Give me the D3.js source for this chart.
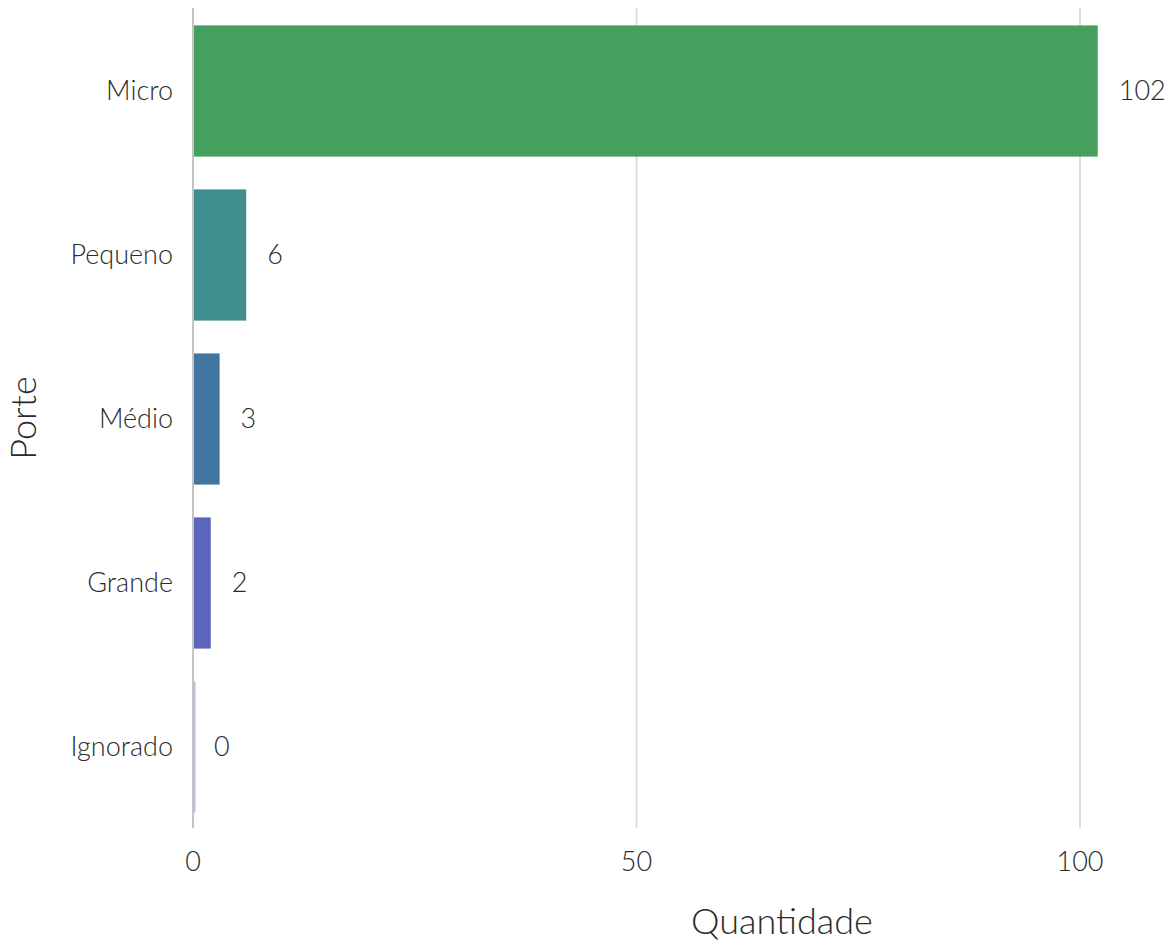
<!DOCTYPE html>
<html><head><meta charset="utf-8">
<script src="https://cdn.jsdelivr.net/npm/d3@7"></script>
<style>
body{margin:0;background:#fff;}
text{font-family:Lato,sans-serif;font-weight:300;fill:#2b2b2b;}
</style></head>
<body><svg id="c" width="1171" height="944"></svg>
<script>
const categories = ["Micro","Pequeno","Médio","Grande","Ignorado"];
const values = [102, 6, 3, 2, 0];
const colors = ["#45a060","#3f8d8c","#4275a0","#5b65bb","#c9b8dc"];
const tickValues = [0, 50, 100];
const xTitle = "Quantidade";
const yTitle = "Porte";

const svg = d3.select("#c");
const x = d3.scaleLinear().domain([0, 100]).range([193, 1080]);
const y = d3.scaleBand().domain(categories).range([9, 829]).paddingInner(0.2).paddingOuter(0.1);

// grid
svg.append("g").selectAll("line").data(tickValues).join("line")
  .attr("x1", d => x(d)).attr("x2", d => x(d))
  .attr("y1", 8).attr("y2", 828)
  .attr("stroke", d => d === 0 ? "#c4c4c4" : "#dedede")
  .attr("stroke-width", 2);

// bars
svg.append("g").selectAll("rect").data(categories).join("rect")
  .attr("x", x(0) + 1)
  .attr("y", d => y(d))
  .attr("height", y.bandwidth())
  .attr("width", (d, i) => Math.max(1.5, x(values[i]) - x(0) - 1))
  .attr("fill", (d, i) => colors[i]);

// value labels
svg.append("g").selectAll("text").data(categories).join("text")
  .attr("x", (d, i) => x(values[i]) + 21)
  .attr("y", d => y(d) + y.bandwidth() / 2)
  .attr("dy", "0.35em")
  .attr("font-size", 27)
  .text((d, i) => values[i]);

// category labels
svg.append("g").selectAll("text").data(categories).join("text")
  .attr("x", 173)
  .attr("y", d => y(d) + y.bandwidth() / 2)
  .attr("dy", "0.35em")
  .attr("text-anchor", "end")
  .attr("font-size", 27)
  .text(d => d);

// x tick labels
svg.append("g").selectAll("text").data(tickValues).join("text")
  .attr("x", d => x(d))
  .attr("y", 862)
  .attr("dy", "0.35em")
  .attr("text-anchor", "middle")
  .attr("font-size", 27)
  .text(d => d);

// axis titles
svg.append("text")
  .attr("x", 782).attr("y", 934)
  .attr("text-anchor", "middle")
  .attr("font-size", 36)
  .text(xTitle);

svg.append("text")
  .attr("transform", "translate(36,418) rotate(-90)")
  .attr("text-anchor", "middle")
  .attr("font-size", 36)
  .text(yTitle);
</script></body></html>
